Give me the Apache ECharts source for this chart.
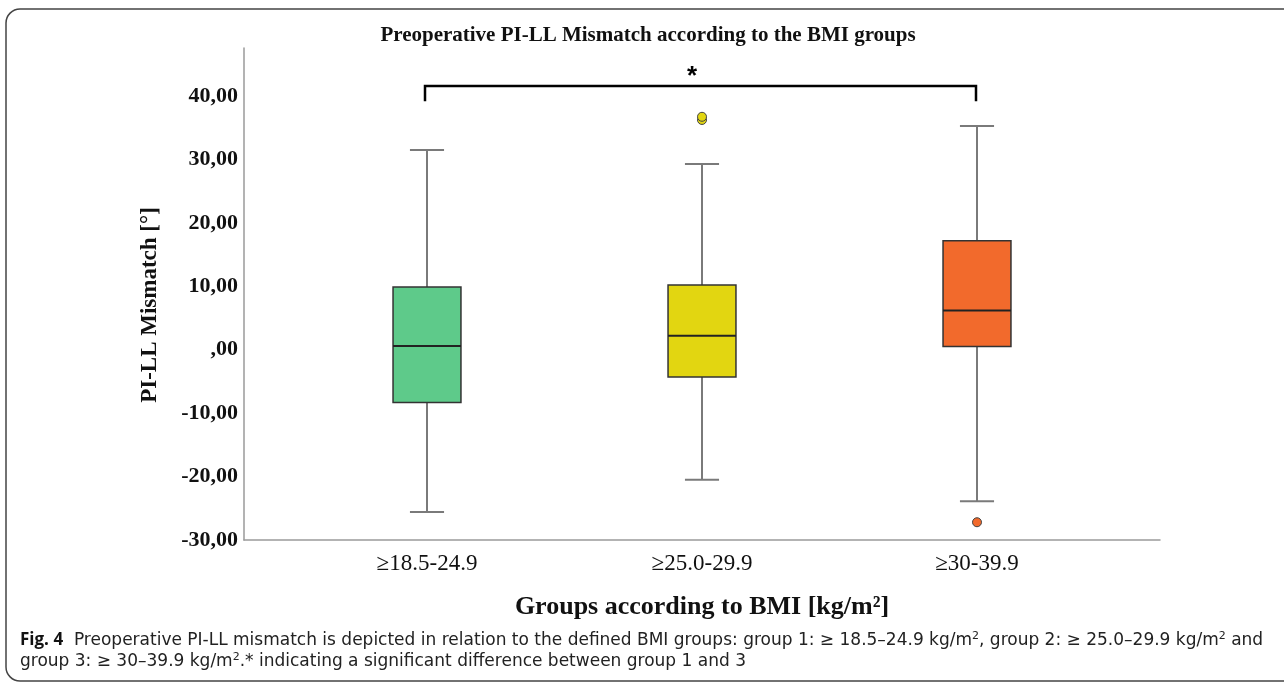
<!DOCTYPE html>
<html>
<head>
<meta charset="utf-8">
<script src="https://cdn.jsdelivr.net/npm/echarts@6/dist/echarts.min.js"></script>
<style>
html,body{margin:0;padding:0;background:#fff;}
#chart{width:1284px;height:686px;}
</style>
</head>
<body>
<div id="chart"></div>
<script>
// ---- Data ----
const categories = ['≥18.5-24.9', '≥25.0-29.9', '≥30-39.9'];
const lowWhisker  = [-25.6, -20.5, -23.9];
const q1          = [-8.3, -4.3, 0.5];
const median      = [0.6, 2.2, 6.2];
const q3          = [9.9, 10.2, 17.2];
const highWhisker = [31.5, 29.3, 35.3];
const outlierGroup = [1, 1, 2];
const outlierValue = [36.25, 36.75, -27.2];
const boxColors = ['#5ECA8A', '#E2D611', '#F26A2C'];
const yTicks = { min: -30, max: 47.6, interval: 10 };
const bracket = { from: 0, to: 2, top: 41.6, drop: 39.2, label: '*' };

const titleText = 'Preoperative PI-LL Mismatch according to the BMI groups';
const yName = 'PI-LL Mismatch [°]';
const xName = 'Groups according to BMI [kg/m²]';

const boxData = categories.map((c, i) => [i, lowWhisker[i], q1[i], median[i], q3[i], highWhisker[i]]);
const outlierData = outlierGroup.map((g, i) => ({ value: [g, outlierValue[i]], itemStyle: { color: boxColors[g] } }));

function fmtY(v) {
  let s = Math.abs(v).toFixed(2).replace('.', ',');
  if (Math.abs(v) < 1e-9) s = ',00';
  return (v < 0 ? '-' : '') + s;
}

const chart = echarts.init(document.getElementById('chart'));
const serif = '"Liberation Serif", "DejaVu Serif", serif';

chart.setOption({
  animation: false,
  title: {
    text: titleText, left: 643, top: 20, textAlign: 'center',
    textStyle: { fontFamily: serif, fontWeight: 'bold', fontSize: 21, color: '#111' }
  },
  grid: [
    { left: 244, right: 124, top: 48, bottom: 146 },
    { left: 289.5, right: 169.5, top: 48, bottom: 146 }
  ],
  xAxis: [
    { type: 'value', gridIndex: 0, min: 0, max: 1,
      axisLine: { show: true, onZero: false, lineStyle: { color: '#9a9a9a', width: 1.5 } },
      axisTick: { show: false }, axisLabel: { show: false }, splitLine: { show: false } },
    { type: 'category', gridIndex: 1, data: categories,
      axisLine: { show: false }, axisTick: { show: false }, splitLine: { show: false },
      axisLabel: { fontFamily: serif, fontSize: 23, color: '#111', margin: 12 },
      name: xName, nameLocation: 'middle', nameGap: 54,
      nameTextStyle: { fontFamily: serif, fontWeight: 'bold', fontSize: 26, color: '#111' } }
  ],
  yAxis: [
    { type: 'value', gridIndex: 0, min: yTicks.min, max: yTicks.max, interval: yTicks.interval,
      axisLine: { show: true, lineStyle: { color: '#9a9a9a', width: 1.5 } },
      axisTick: { show: false }, splitLine: { show: false },
      axisLabel: { formatter: fmtY, showMaxLabel: false, fontFamily: serif, fontWeight: 'bold', fontSize: 22, color: '#111', margin: 6 },
      name: yName, nameLocation: 'middle', nameGap: 82, nameRotate: 90,
      nameTextStyle: { fontFamily: serif, fontWeight: 'bold', fontSize: 23, color: '#111', padding: [0, 22, 0, 0] } },
    { type: 'value', gridIndex: 1, min: yTicks.min, max: yTicks.max, interval: yTicks.interval, show: false }
  ],
  series: [
    {
      type: 'custom', xAxisIndex: 1, yAxisIndex: 1,
      encode: { x: 0, y: [1, 2, 3, 4, 5] },
      data: boxData,
      renderItem: function (params, api) {
        const i = api.value(0);
        const band = api.size([1, 0])[0];
        const bw = band * 0.247, cw = band * 0.124;
        const pLo = api.coord([i, api.value(1)]);
        const pQ1 = api.coord([i, api.value(2)]);
        const pMd = api.coord([i, api.value(3)]);
        const pQ3 = api.coord([i, api.value(4)]);
        const pHi = api.coord([i, api.value(5)]);
        const x = pMd[0];
        const wStyle = { stroke: '#7a7a7a', lineWidth: 2 };
        return {
          type: 'group',
          children: [
            { type: 'line', shape: { x1: x, y1: pHi[1], x2: x, y2: pQ3[1] }, style: wStyle },
            { type: 'line', shape: { x1: x, y1: pQ1[1], x2: x, y2: pLo[1] }, style: wStyle },
            { type: 'line', shape: { x1: x - cw / 2, y1: pHi[1], x2: x + cw / 2, y2: pHi[1] }, style: wStyle },
            { type: 'line', shape: { x1: x - cw / 2, y1: pLo[1], x2: x + cw / 2, y2: pLo[1] }, style: wStyle },
            { type: 'rect', shape: { x: x - bw / 2, y: pQ3[1], width: bw, height: pQ1[1] - pQ3[1] },
              style: { fill: boxColors[i], stroke: '#333', lineWidth: 1.5 } },
            { type: 'line', shape: { x1: x - bw / 2, y1: pMd[1], x2: x + bw / 2, y2: pMd[1] },
              style: { stroke: '#222', lineWidth: 2 } }
          ]
        };
      }
    },
    {
      type: 'scatter', xAxisIndex: 1, yAxisIndex: 1,
      symbol: 'circle', symbolSize: 9,
      itemStyle: { borderColor: '#444', borderWidth: 1, opacity: 1 },
      data: outlierData
    },
    {
      type: 'custom', xAxisIndex: 1, yAxisIndex: 1,
      data: [[bracket.from, bracket.to, bracket.top, bracket.drop]],
      renderItem: function (params, api) {
        const a = api.coord([api.value(0), api.value(2)]);
        const b = api.coord([api.value(1), api.value(2)]);
        const a2 = api.coord([api.value(0), api.value(3)]);
        const b2 = api.coord([api.value(1), api.value(3)]);
        return {
          type: 'group',
          children: [
            { type: 'polyline', shape: { points: [[a2[0] - 2, a2[1]], [a[0] - 2, a[1]], [b[0] - 1, b[1]], [b2[0] - 1, b2[1]]] },
              style: { stroke: '#000', lineWidth: 2.5, fill: null } },
            { type: 'text', style: { x: (a[0] + b[0]) / 2 - 10, y: a[1] - 9, text: bracket.label,
              textAlign: 'center', textVerticalAlign: 'middle',
              font: 'bold 26px "Liberation Sans", sans-serif', fill: '#000' } }
          ]
        };
      }
    }
  ],
  graphic: [
    { type: 'rect', shape: { x: 6, y: 9, width: 1320, height: 672, r: 14 },
      style: { fill: null, stroke: '#444', lineWidth: 1.5 }, silent: true, z: -1 },
    { type: 'text', left: 20, top: 630,
      style: {
        text: '{b|Fig. 4}  Preoperative PI-LL mismatch is depicted in relation to the defined BMI groups: group 1: ≥ 18.5–24.9 kg/m{s|2}, group 2: ≥ 25.0–29.9 kg/m{s|2} and\ngroup 3: ≥ 30–39.9 kg/m{s|2}.* indicating a significant difference between group 1 and 3',
        font: '17px "DejaVu Sans", "Open Sans", sans-serif',
        fill: '#222', lineHeight: 21,
        rich: {
          b: { font: 'bold 17px "Open Sans", sans-serif', fill: '#111' },
          s: { font: '11px "DejaVu Sans", "Open Sans", sans-serif', fill: '#222', padding: [0, 0, 8, 0] }
        }
      } }
  ]
});
</script>
</body>
</html>
